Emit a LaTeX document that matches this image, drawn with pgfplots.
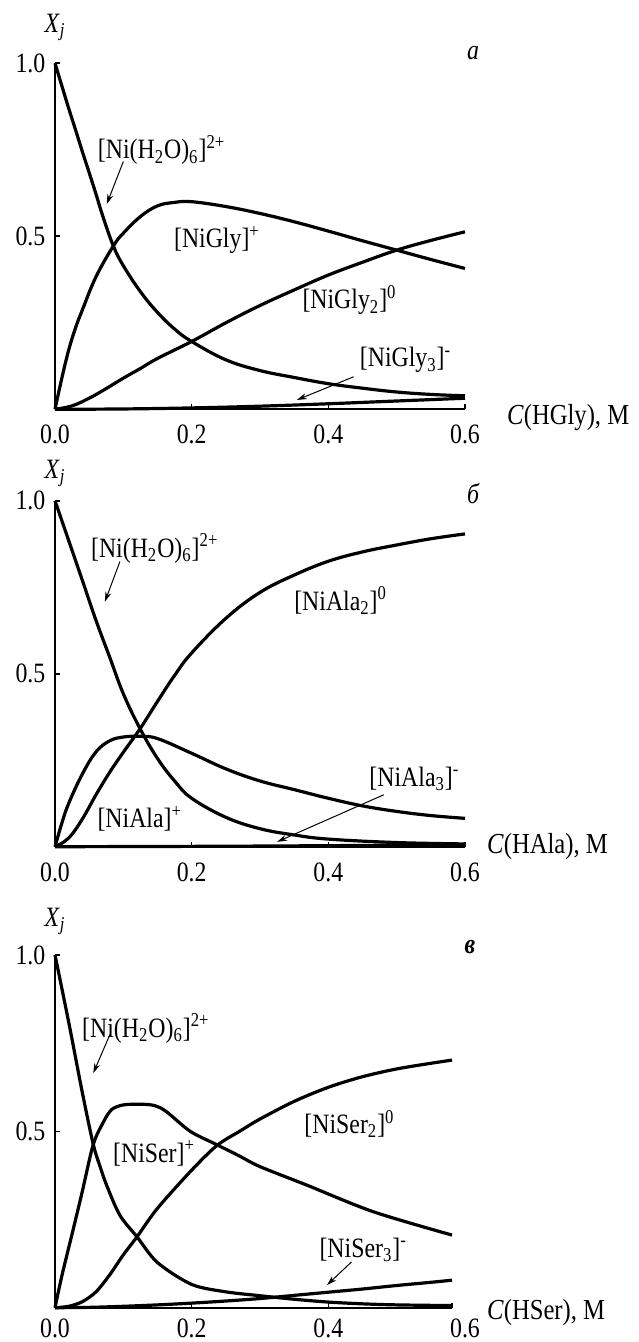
\documentclass[border=0pt]{standalone}
\usepackage{pgfplots}
\pgfplotsset{compat=1.18}
\usepackage{fontspec}
\setmainfont{Liberation Serif}[FakeStretch=0.85]
\usetikzlibrary{arrows.meta}
\tikzset{
  lab/.style={anchor=center, inner sep=0pt},
  arr/.style={line width=0.5pt, -{Stealth[length=5pt,width=3pt]}},
}
\pgfplotsset{
  panel/.style={
    scale only axis, width=205pt, height=173pt,
    xmin=0, xmax=0.6, ymin=0, ymax=1,
    axis lines=left,
    axis line style={-, line width=1pt},
    every inner x axis line/.append style={-},
    every inner y axis line/.append style={-},
    every outer x axis line/.append style={-},
    every outer y axis line/.append style={-},
    xtick={0,0.2,0.4,0.6}, xticklabels={0.0,0.2,0.4,0.6},
    ytick={0.5,1}, yticklabels={0.5,1.0},
    xticklabel style={yshift=-3pt},
    tick align=inside, major tick length=2.5pt,
    tick style={line width=0.8pt, black},
    /pgf/number format/assume math mode=true,
    clip=false,
    every axis plot/.append style={no markers, smooth, tension=0.65},
    every axis plot post/.append style={black, line width=1.6pt},
    every axis x label/.style={at={(rel axis cs:1,0)}, anchor=west, font=\fontsize{14.5}{16}\selectfont},
    every axis y label/.style={at={(rel axis cs:0,1)}, anchor=center},
  },
}
\begin{document}
\fontsize{14}{16}\selectfont
\begin{tikzpicture}
\useasboundingbox (0,0) rectangle (319pt,-671pt);
% ---------------- panel a (Gly) ----------------
\begin{axis}[panel, at={(27.5pt,-204.65pt)}, anchor=south west,
  xlabel={\textit{C}(HGly), M}, xlabel style={xshift=16.2pt, yshift=-4pt},
  ylabel={\textit{X}\textsubscript{\textit{j}}}, ylabel style={yshift=18pt}]
\addplot coordinates {(0,1.0) (0.01,0.935) (0.02,0.87) (0.03,0.808) (0.04,0.745) (0.05,0.684) (0.06,0.622) (0.07,0.558) (0.0854,0.472) (0.1,0.415) (0.125,0.34) (0.15,0.28) (0.175,0.232) (0.2,0.196) (0.25,0.143) (0.3,0.112) (0.35,0.092) (0.4,0.074) (0.45,0.061) (0.5,0.050) (0.55,0.043) (0.6,0.039)};
\addplot coordinates {(0,0) (0.01,0.09) (0.02,0.171) (0.03,0.235) (0.04,0.287) (0.06,0.383) (0.0854,0.472) (0.1,0.509) (0.125,0.557) (0.15,0.588) (0.175,0.598) (0.2,0.60) (0.25,0.586) (0.3,0.566) (0.35,0.542) (0.4,0.515) (0.45,0.487) (0.5,0.46) (0.55,0.433) (0.6,0.407)};
\addplot coordinates {(0,0) (0.025,0.01) (0.05,0.032) (0.075,0.06) (0.1,0.09) (0.125,0.118) (0.15,0.147) (0.2,0.196) (0.25,0.25) (0.3,0.300) (0.35,0.345) (0.4,0.388) (0.45,0.425) (0.5,0.46) (0.55,0.488) (0.6,0.513)};
\addplot coordinates {(0,0) (0.1,0.001) (0.2,0.004) (0.3,0.009) (0.4,0.016) (0.5,0.024) (0.6,0.032)};
\node[lab] at (axis cs:0.156,0.749) {[Ni(H\textsubscript{2}O)\textsubscript{6}]\textsuperscript{2+}};
\draw[arr] (axis cs:0.100,0.716) -- (axis cs:0.0757,0.593);
\node[lab] at (axis cs:0.237,0.489) {[NiGly]\textsuperscript{+}};
\node[lab] at (axis cs:0.431,0.316) {[NiGly\textsubscript{2}]\textsuperscript{0}};
\node[lab] at (axis cs:0.513,0.142) {[NiGly\textsubscript{3}]\textsuperscript{-}};
\draw[arr] (axis cs:0.437,0.094) -- (axis cs:0.354,0.027);
\node[font=\itshape] at (rel axis cs:1,1) [xshift=4pt, yshift=5pt] {а};
\end{axis}
% ---------------- panel b (Ala) ----------------
\begin{axis}[panel, at={(27.5pt,-423.35pt)}, anchor=south west,
  xlabel={\textit{C}(HAla), M}, xlabel style={xshift=6.2pt, yshift=0pt},
  ylabel={\textit{X}\textsubscript{\textit{j}}}, ylabel style={yshift=13.5pt}]
\addplot coordinates {(0,1) (0.02,0.885) (0.04,0.77) (0.06,0.654) (0.08,0.548) (0.1,0.442) (0.1245,0.341) (0.15,0.255) (0.175,0.19) (0.2,0.14) (0.25,0.085) (0.3,0.052) (0.35,0.034) (0.4,0.022) (0.5,0.012) (0.6,0.008)};
\addplot coordinates {(0,0) (0.01,0.068) (0.02,0.125) (0.04,0.21) (0.06,0.274) (0.08,0.306) (0.1,0.317) (0.125,0.319) (0.15,0.3125) (0.2,0.27) (0.25,0.225) (0.3,0.19) (0.35,0.165) (0.4,0.14) (0.45,0.118) (0.5,0.102) (0.55,0.09) (0.6,0.082)};
\addplot coordinates {(0,0) (0.02,0.025) (0.04,0.08) (0.06,0.15) (0.08,0.215) (0.1,0.273) (0.1245,0.341) (0.15,0.42) (0.175,0.495) (0.2,0.56) (0.25,0.66) (0.3,0.735) (0.35,0.785) (0.4,0.825) (0.45,0.852) (0.5,0.872) (0.55,0.89) (0.6,0.904)};
\addplot coordinates {(0,0) (0.2,0.001) (0.4,0.003) (0.6,0.006)};
\node[lab] at (axis cs:0.146,0.862) {[Ni(H\textsubscript{2}O)\textsubscript{6}]\textsuperscript{2+}};
\draw[arr] (axis cs:0.095,0.824) -- (axis cs:0.073,0.708);
\node[lab] at (axis cs:0.418,0.711) {[NiAla\textsubscript{2}]\textsuperscript{0}};
\node[lab] at (axis cs:0.124,0.08) {[NiAla]\textsuperscript{+}};
\node[lab] at (axis cs:0.526,0.196) {[NiAla\textsubscript{3}]\textsuperscript{-}};
\draw[arr] (axis cs:0.481,0.150) -- (axis cs:0.325,0.014);
\node[font=\itshape] at (rel axis cs:1,1) [xshift=4pt, yshift=3.5pt] {б};
\end{axis}
% ---------------- panel c (Ser) ----------------
\begin{axis}[panel, at={(27.5pt,-653.85pt)}, anchor=south west,
  width=198.5pt, height=176.35pt, xmax=0.581,
  xtick={0,0.2,0.4}, xticklabels={0.0,0.2,0.4},
  xticklabel style={yshift=2.5pt},
  extra x ticks={0.581}, extra x tick labels={0.6},
  extra x tick style={xticklabel style={xshift=6.5pt}},
  xlabel={\textit{C}(HSer), M}, xlabel style={xshift=12.7pt, yshift=-2.5pt},
  ylabel={\textit{X}\textsubscript{\textit{j}}}, ylabel style={yshift=16.7pt},
  every axis plot/.append style={tension=0.5}]
\addplot coordinates {(0,1.0) (0.02,0.81) (0.04,0.61) (0.056,0.463) (0.066,0.40) (0.076,0.345) (0.095,0.262) (0.12,0.201) (0.15,0.128) (0.2,0.066) (0.25,0.045) (0.3,0.034) (0.35,0.024) (0.4,0.016) (0.45,0.011) (0.5,0.008) (0.581,0.006)};
\addplot coordinates {(0,0) (0.01,0.09) (0.027,0.225) (0.04,0.33) (0.056,0.463) (0.071,0.527) (0.083,0.562) (0.1,0.575) (0.125,0.577) (0.146,0.573) (0.163,0.556) (0.198,0.50) (0.237,0.462) (0.27,0.43) (0.3,0.40) (0.368,0.348) (0.466,0.272) (0.581,0.206)};
\addplot coordinates {(0,0) (0.02,0.004) (0.04,0.017) (0.06,0.045) (0.08,0.093) (0.1,0.15) (0.12,0.201) (0.15,0.282) (0.2,0.39) (0.237,0.46) (0.27,0.50) (0.3,0.535) (0.35,0.585) (0.4,0.625) (0.45,0.655) (0.5,0.677) (0.55,0.693) (0.581,0.702)};
\addplot coordinates {(0,0) (0.05,0.001) (0.1,0.004) (0.15,0.008) (0.2,0.013) (0.25,0.019) (0.3,0.026) (0.35,0.035) (0.4,0.044) (0.45,0.053) (0.5,0.063) (0.55,0.072) (0.581,0.078)};
\node[lab] at (axis cs:0.133,0.792) {[Ni(H\textsubscript{2}O)\textsubscript{6}]\textsuperscript{2+}};
\draw[arr] (axis cs:0.0805,0.775) -- (axis cs:0.056,0.665);
\node[lab] at (axis cs:0.145,0.438) {[NiSer]\textsuperscript{+}};
\node[lab] at (axis cs:0.431,0.521) {[NiSer\textsubscript{2}]\textsuperscript{0}};
\node[lab] at (axis cs:0.451,0.164) {[NiSer\textsubscript{3}]\textsuperscript{-}};
\draw[arr] (axis cs:0.434,0.130) -- (axis cs:0.398,0.064);
\node[font=\itshape\bfseries] at (rel axis cs:1,1) [xshift=9pt, yshift=4pt] {в};
\end{axis}
\end{tikzpicture}
\end{document}
